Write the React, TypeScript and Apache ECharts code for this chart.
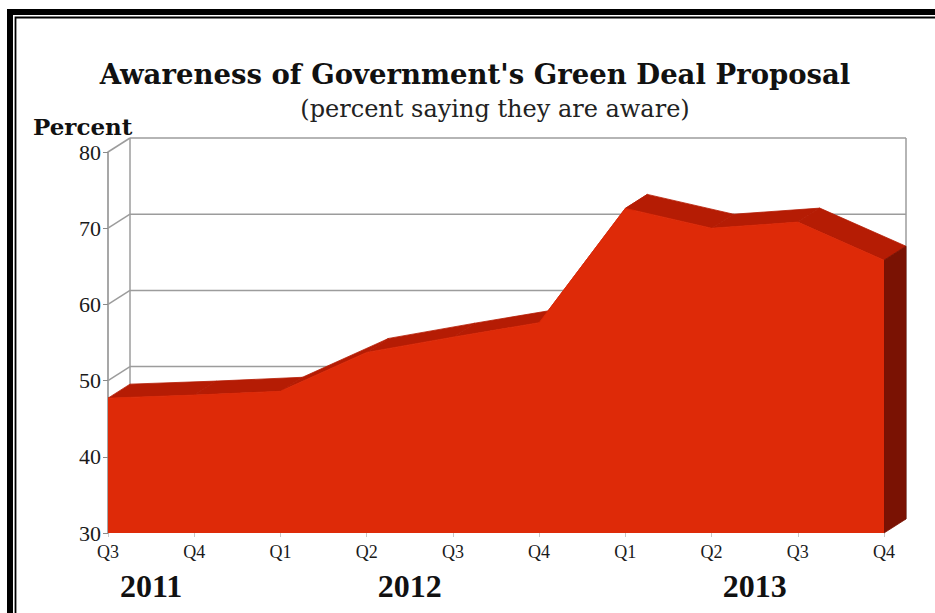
import React, { useEffect, useRef } from "react";
import * as echarts from "echarts";

const categories = ["Q3", "Q4", "Q1", "Q2", "Q3", "Q4", "Q1", "Q2", "Q3", "Q4"];
const values = [47.7, 48.1, 48.6, 53.7, 55.7, 57.6, 72.6, 70.0, 70.8, 65.8];
const years = ["2011", "2012", "2013"];
const yearPositions = [0.5, 3.5, 7.5];
const yMin = 30;
const yMax = 80;
const yStep = 10;

const DX = 22;
const DY = -14;
const FRONT = "#de2a08";
const TOP = "#b51c04";
const SIDE = "#7a1203";
const GRID = "#9c9c9c";
const SERIF = "'Liberation Serif', 'DejaVu Serif', serif";
const WIDE_SERIF = "'DejaVu Serif', 'Liberation Serif', serif";

export default function App() {
  const ref = useRef<HTMLDivElement>(null);
  useEffect(() => {
    document.body.style.margin = "0";
    const chart = echarts.init(ref.current!, null, { renderer: "svg" });
    const n = values.length;
    const tickVals: number[] = [];
    for (let v = yMin; v <= yMax; v += yStep) tickVals.push(v);

    const option: any = {
      animation: false,
      backgroundColor: "#fff",
      title: [
        {
          text: "Awareness of Government's Green Deal Proposal",
          left: 475,
          top: 60,
          padding: 0,
          textAlign: "center",
          textStyle: { fontFamily: WIDE_SERIF, fontWeight: "bold", fontSize: 27.5, color: "#111" },
        },
        {
          text: "(percent saying they are aware)",
          left: 495,
          top: 97,
          padding: 0,
          textAlign: "center",
          textStyle: { fontFamily: WIDE_SERIF, fontWeight: "normal", fontSize: 24, color: "#222" },
        },
        {
          text: "Percent",
          left: 33,
          top: 114,
          padding: 0,
          textStyle: { fontFamily: WIDE_SERIF, fontWeight: "bold", fontSize: 23, lineHeight: 24, color: "#111" },
        },
      ],
      graphic: [
        { type: "rect", z: -10, shape: { x: 7, y: 9, width: 1000, height: 1000 }, style: { fill: "#000" } },
        { type: "rect", z: -9, shape: { x: 13, y: 15, width: 1000, height: 1000 }, style: { fill: "#fff" } },
        {
          type: "rect",
          z: -8,
          shape: { x: 15.5, y: 17.5, width: 1000, height: 1000 },
          style: { fill: "#fff", stroke: "#000", lineWidth: 1.8 },
        },
      ],
      grid: { left: 108, right: 51, top: 152, bottom: 80, containLabel: false },
      xAxis: [
        {
          type: "category",
          data: categories,
          boundaryGap: false,
          axisLine: { show: false },
          axisTick: { show: true, length: 4, lineStyle: { color: "#c8c8c8" } },
          axisLabel: { fontFamily: SERIF, fontSize: 18, color: "#1a1a1a", margin: 10 },
          splitLine: { show: false },
        },
        {
          type: "value",
          min: 0,
          max: n - 1,
          interval: 0.5,
          position: "bottom",
          axisLine: { show: false },
          axisTick: { show: false },
          splitLine: { show: false },
          axisLabel: {
            fontFamily: SERIF,
            fontWeight: "bold",
            fontSize: 32,
            color: "#111",
            margin: 37,
            formatter: (v: number) => {
              const idx = yearPositions.indexOf(v);
              return idx >= 0 ? years[idx] : "";
            },
          },
        },
      ],
      yAxis: {
        type: "value",
        min: yMin,
        max: yMax,
        interval: yStep,
        axisLine: { show: true, lineStyle: { color: "#8a8a8a", width: 1.5 } },
        axisTick: { show: true, length: 5, lineStyle: { color: "#8a8a8a" } },
        axisLabel: { fontFamily: SERIF, fontSize: 22, lineHeight: 20, color: "#1a1a1a", margin: 7 },
        splitLine: { show: false },
      },
      series: [
        {
          type: "custom",
          z: 1,
          silent: true,
          data: [[0, yMin]],
          renderItem: (params: any, api: any) => {
            const children: any[] = [];
            const ls = { stroke: GRID, lineWidth: 1.5, fill: null };
            const topL = api.coord([0, yMax]);
            const botL = api.coord([0, yMin]);
            const topR = api.coord([n - 1, yMax]);
            const botR = api.coord([n - 1, yMin]);
            tickVals.forEach((v) => {
              const a = api.coord([0, v]);
              const b = api.coord([n - 1, v]);
              children.push({
                type: "line",
                shape: { x1: a[0] + DX, y1: a[1] + DY, x2: b[0] + DX, y2: b[1] + DY },
                style: ls,
              });
              children.push({
                type: "line",
                shape: { x1: a[0], y1: a[1], x2: a[0] + DX, y2: a[1] + DY },
                style: ls,
              });
            });
            children.push({
              type: "line",
              shape: { x1: topL[0] + DX, y1: topL[1] + DY, x2: botL[0] + DX, y2: botL[1] + DY },
              style: ls,
            });
            children.push({
              type: "line",
              shape: { x1: topR[0] + DX, y1: topR[1] + DY, x2: botR[0] + DX, y2: botR[1] + DY },
              style: ls,
            });
            return { type: "group", children };
          },
        },
        {
          type: "custom",
          z: 2,
          silent: true,
          data: values.map((v, i) => [i, v]),
          renderItem: (params: any, api: any) => {
            const i = api.value(0);
            const p = api.coord([i, api.value(1)]);
            const children: any[] = [];
            if (i < n - 1) {
              const q = api.coord([i + 1, values[i + 1]]);
              children.push({
                type: "polygon",
                shape: {
                  points: [
                    [p[0], p[1]],
                    [q[0], q[1]],
                    [q[0] + DX, q[1] + DY],
                    [p[0] + DX, p[1] + DY],
                  ],
                },
                style: { fill: TOP, stroke: TOP, lineWidth: 0.8 },
              });
            } else {
              const b = api.coord([i, yMin]);
              children.push({
                type: "polygon",
                shape: {
                  points: [
                    [p[0], p[1]],
                    [p[0] + DX, p[1] + DY],
                    [b[0] + DX, b[1] + DY],
                    [b[0], b[1]],
                  ],
                },
                style: { fill: SIDE, stroke: SIDE, lineWidth: 0.8 },
              });
            }
            return { type: "group", children };
          },
        },
        {
          type: "line",
          z: 3,
          silent: true,
          data: values,
          symbol: "none",
          lineStyle: { width: 0.8, color: FRONT },
          areaStyle: { color: FRONT, opacity: 1 },
        },
      ],
    };
    chart.setOption(option);
    return () => chart.dispose();
  }, []);
  return <div ref={ref} style={{ width: 935, height: 613 }} />;
}
